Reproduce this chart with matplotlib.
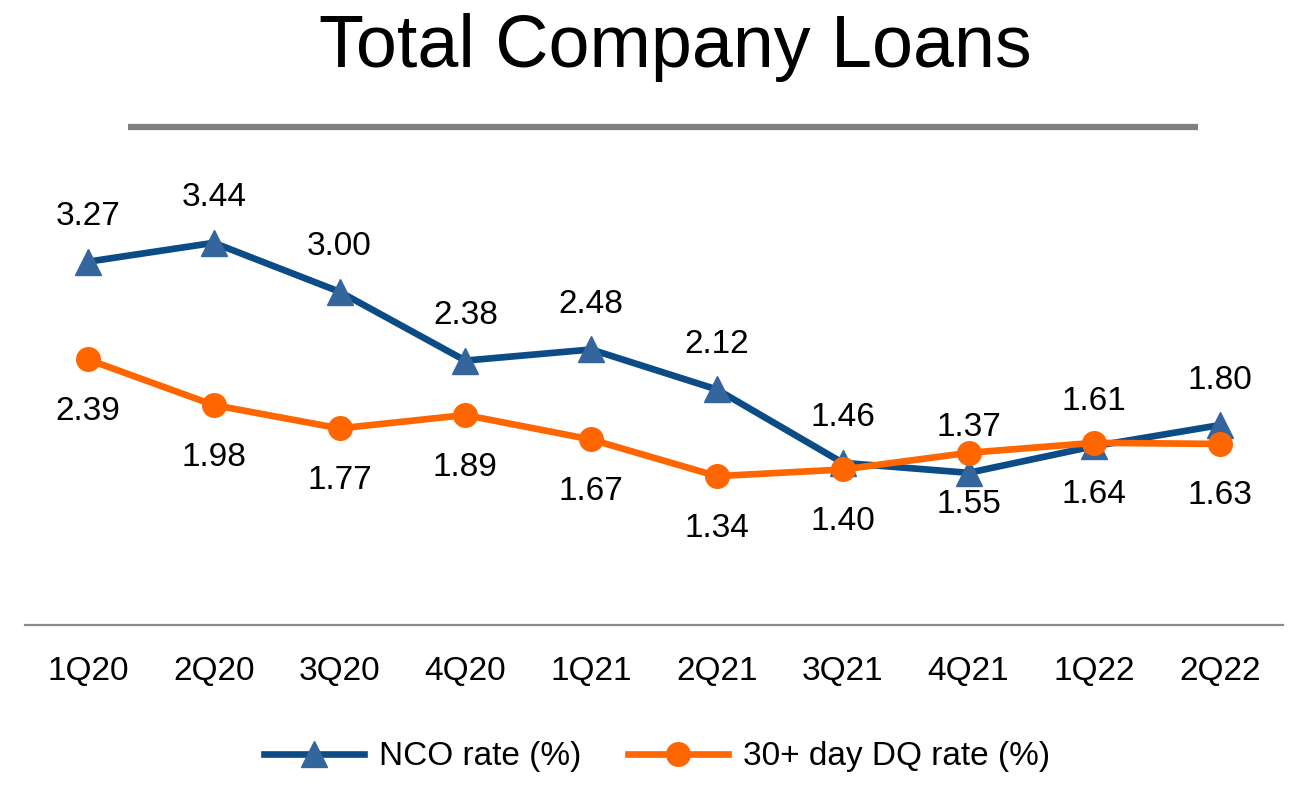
import matplotlib.pyplot as plt
from matplotlib.lines import Line2D

quarters = ["1Q20", "2Q20", "3Q20", "4Q20", "1Q21", "2Q21", "3Q21", "4Q21", "1Q22", "2Q22"]
nco_rate = [3.27, 3.44, 3.00, 2.38, 2.48, 2.12, 1.46, 1.37, 1.61, 1.80]
dq_rate = [2.39, 1.98, 1.77, 1.89, 1.67, 1.34, 1.40, 1.55, 1.64, 1.63]

blue_line = "#0B4C87"
blue_marker = "#34659C"
orange = "#FF6600"

plt.rcParams["font.family"] = ["Liberation Sans", "DejaVu Sans"]

fig = plt.figure(figsize=(12.96, 8.11), dpi=100)
ax = fig.add_axes([0.0193, 0.2293, 0.9707, 0.548])

x = list(range(len(quarters)))

ax.plot(x, nco_rate, color=blue_line, lw=4.8, marker="^", ms=19,
        markerfacecolor=blue_marker, markeredgecolor=blue_marker, zorder=3)
ax.plot(x, dq_rate, color=orange, lw=4.8, marker="o", ms=17,
        markerfacecolor=orange, markeredgecolor=orange, zorder=4)

# labels: NCO above, DQ below
for i in x:
    ax.annotate(f"{nco_rate[i]:.2f}", (i, nco_rate[i]), xytext=(0, 45),
                textcoords="offset pixels", ha="center", va="center", fontsize=24)
    ax.annotate(f"{dq_rate[i]:.2f}", (i, dq_rate[i]), xytext=(0, -52),
                textcoords="offset pixels", ha="center", va="center", fontsize=24)

ax.set_xlim(-0.5, 9.5)
ax.set_ylim(0, 4.0)
ax.set_yticks([])
ax.set_xticks(x)
ax.set_xticklabels(quarters, fontsize=24)
ax.tick_params(axis="x", length=0, pad=22)
for s in ["top", "right", "left"]:
    ax.spines[s].set_visible(False)
ax.spines["bottom"].set_color("#8C8C8C")
ax.spines["bottom"].set_linewidth(1.6)

fig.text(0.521, 0.942, "Total Company Loans", ha="center", va="center", fontsize=53)
fig.add_artist(Line2D([128 / 1296, 1198 / 1296], [1 - 127 / 811, 1 - 127 / 811],
                      color="#808080", lw=4.5, solid_capstyle="butt",
                      transform=fig.transFigure))

handles = [
    Line2D([], [], color=blue_line, lw=4.8, marker="^", ms=19,
           markerfacecolor=blue_marker, markeredgecolor=blue_marker),
    Line2D([], [], color=orange, lw=4.8, marker="o", ms=17,
           markerfacecolor=orange, markeredgecolor=orange),
]
fig.legend(handles, ["NCO rate (%)", "30+ day DQ rate (%)"], loc="center",
           bbox_to_anchor=(0.507, 1 - 757 / 811), ncol=2, frameon=False,
           fontsize=24, handlelength=3.0, columnspacing=1.4, handletextpad=0.45)

fig.savefig("out.png", dpi=100)
